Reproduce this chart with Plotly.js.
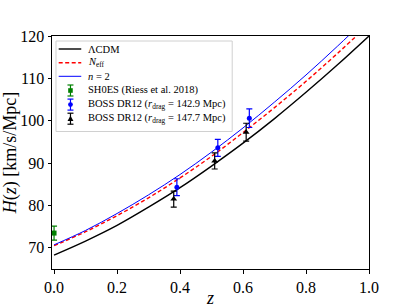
<!DOCTYPE html>
<html>
<head>
<meta charset="utf-8">
<script src="https://cdn.plot.ly/plotly-3.0.1.min.js"></script>
<style>html,body{margin:0;padding:0;background:#fff;}#chart{width:411px;height:308px;}</style>
</head>
<body>
<div id="chart"></div>
<script>
// model curves
var zGrid = [0.0, 0.1, 0.2, 0.3, 0.4, 0.5, 0.6, 0.7, 0.8, 0.9, 1.0];
var hLCDM = [68.3, 71.6, 75.3, 79.6, 84.2, 89.3, 94.7, 100.5, 106.7, 113.2, 120.0];
var hNeff = [70.5, 73.8, 77.6, 81.8, 86.5, 91.6, 97.2, 103.1, 109.3, 115.9, 122.8];
var hN2   = [70.7, 74.1, 78.1, 82.5, 87.3, 92.6, 98.3, 104.4, 110.8, 117.6, 124.7];

// data points
var zShoes = [0.0];
var hShoes = [73.48];
var eShoes = [1.66];

var zBossBlue = [0.39, 0.52, 0.62];
var hBossBlue = [84.3, 93.6, 100.6];
var eBossBlue = [2.0, 2.0, 2.2];

var zBossBlack = [0.38, 0.51, 0.61];
var hBossBlack = [81.5, 90.5, 97.3];
var eBossBlack = [1.9, 1.9, 2.1];

// legend labels
var legendLabels = ['\u039bCDM', '<i>N</i><sub>eff</sub>', '<i>n</i> = 2',
  'SH0ES (Riess et al. 2018)',
  'BOSS DR12 (<i>r</i><sub>drag</sub> = 142.9 Mpc)',
  'BOSS DR12 (<i>r</i><sub>drag</sub> = 147.7 Mpc)'];

var serif = "Liberation Serif, Times New Roman, serif";

var traces = [
  {x: zGrid, y: hLCDM, mode: 'lines', name: legendLabels[0],
   line: {color: 'black', width: 1.4, shape: 'spline'}},
  {x: zGrid, y: hNeff, mode: 'lines', name: legendLabels[1],
   line: {color: 'red', width: 1.4, dash: '4px,2.5px', shape: 'spline'}},
  {x: zGrid, y: hN2, mode: 'lines', name: legendLabels[2],
   line: {color: 'blue', width: 1.0, shape: 'spline'}},
  {x: zShoes, y: hShoes, mode: 'markers', name: legendLabels[3],
   marker: {color: 'green', symbol: 'square', size: 5},
   error_y: {type: 'data', array: eShoes, visible: true, color: 'green', thickness: 1.2, width: 3}},
  {x: zBossBlue, y: hBossBlue, mode: 'markers', name: legendLabels[4],
   marker: {color: 'blue', symbol: 'circle', size: 5},
   error_y: {type: 'data', array: eBossBlue, visible: true, color: 'blue', thickness: 1.2, width: 3}},
  {x: zBossBlack, y: hBossBlack, mode: 'markers', name: legendLabels[5],
   marker: {color: 'black', symbol: 'triangle-up', size: 6},
   error_y: {type: 'data', array: eBossBlack, visible: true, color: 'black', thickness: 1.2, width: 3}}
];

// custom legend (pixel -> paper helpers)
var L = 52, R = 41.5, T = 36, B = 39, W = 411, Hh = 308;
var pw = W - L - R, ph = Hh - T - B;
function X(p) { return (p - L) / pw; }
function Y(p) { return (Hh - B - p) / ph; }

var rowsY = [49, 62.7, 76.3, 90.5, 104.6, 118.7];
var shapes = [];
var annotations = [];
shapes.push({type: 'rect', xref: 'paper', yref: 'paper', x0: X(56), x1: X(232.5), y0: Y(131.5), y1: Y(41),
  line: {color: '#d0d0d0', width: 1}, fillcolor: 'rgba(255,255,255,0.85)', layer: 'above'});
var lineStyles = [
  {color: 'black', width: 1.4, dash: 'solid'},
  {color: 'red', width: 1.4, dash: '4px,2.5px'},
  {color: 'blue', width: 1.0, dash: 'solid'}
];
for (var i = 0; i < 3; i++) {
  shapes.push({type: 'line', xref: 'paper', yref: 'paper', x0: X(58.7), x1: X(81.3), y0: Y(rowsY[i]), y1: Y(rowsY[i]),
    line: lineStyles[i], layer: 'above'});
}
var mColors = ['green', 'blue', 'black'];
for (var j = 0; j < 3; j++) {
  var yc = rowsY[3 + j], xc = 70.5, c = mColors[j];
  shapes.push({type: 'line', xref: 'paper', yref: 'paper', x0: X(xc), x1: X(xc), y0: Y(yc - 5.5), y1: Y(yc + 5.5), line: {color: c, width: 1.2}, layer: 'above'});
  shapes.push({type: 'line', xref: 'paper', yref: 'paper', x0: X(xc - 3), x1: X(xc + 3), y0: Y(yc - 5.5), y1: Y(yc - 5.5), line: {color: c, width: 1.2}, layer: 'above'});
  shapes.push({type: 'line', xref: 'paper', yref: 'paper', x0: X(xc - 3), x1: X(xc + 3), y0: Y(yc + 5.5), y1: Y(yc + 5.5), line: {color: c, width: 1.2}, layer: 'above'});
  if (j === 0) {
    shapes.push({type: 'rect', xref: 'paper', yref: 'paper', x0: X(xc - 2.3), x1: X(xc + 2.3), y0: Y(yc + 2.3), y1: Y(yc - 2.3), line: {color: c, width: 0}, fillcolor: c, layer: 'above'});
  } else if (j === 1) {
    shapes.push({type: 'circle', xref: 'paper', yref: 'paper', x0: X(xc - 2.4), x1: X(xc + 2.4), y0: Y(yc + 2.4), y1: Y(yc - 2.4), line: {color: c, width: 0}, fillcolor: c, layer: 'above'});
  } else {
    shapes.push({type: 'path', xref: 'paper', yref: 'paper',
      path: 'M ' + X(xc - 3) + ' ' + Y(yc + 2.3) + ' L ' + X(xc + 3) + ' ' + Y(yc + 2.3) + ' L ' + X(xc) + ' ' + Y(yc - 3) + ' Z',
      line: {color: c, width: 0}, fillcolor: c, layer: 'above'});
  }
}
for (var k = 0; k < legendLabels.length; k++) {
  annotations.push({xref: 'paper', yref: 'paper', x: X(86.5), y: Y(rowsY[k]), xanchor: 'left', yanchor: 'middle',
    text: legendLabels[k], showarrow: false, font: {family: serif, size: 10.5, color: 'black'}});
}

var layout = {
  width: W, height: Hh,
  margin: {l: L, r: R, t: T, b: B},
  paper_bgcolor: 'white', plot_bgcolor: 'white',
  font: {family: serif, color: 'black'},
  showlegend: false,
  shapes: shapes,
  annotations: annotations,
  xaxis: {range: [-0.0065, 1.0], tickvals: [0, 0.2, 0.4, 0.6, 0.8, 1.0],
          ticktext: ['0.0', '0.2', '0.4', '0.6', '0.8', '1.0'],
          ticks: 'outside', ticklen: 3.5, tickwidth: 1, tickcolor: 'black',
          showline: true, linecolor: 'black', linewidth: 1, mirror: true,
          showgrid: false, zeroline: false,
          tickfont: {family: serif, size: 16},
          title: {text: '<i>z</i>', font: {family: serif, size: 18}, standoff: 9}},
  yaxis: {range: [65, 120], tickvals: [70, 80, 90, 100, 110, 120],
          ticks: 'outside', ticklen: 3.5, tickwidth: 1, tickcolor: 'black',
          showline: true, linecolor: 'black', linewidth: 1, mirror: true,
          showgrid: false, zeroline: false,
          tickfont: {family: serif, size: 16},
          title: {text: '<i>H</i>(<i>z</i>) [km/s/Mpc]', font: {family: serif, size: 18}, standoff: 7}}
};

Plotly.newPlot('chart', traces, layout, {staticPlot: true, displayModeBar: false});
</script>
</body>
</html>
